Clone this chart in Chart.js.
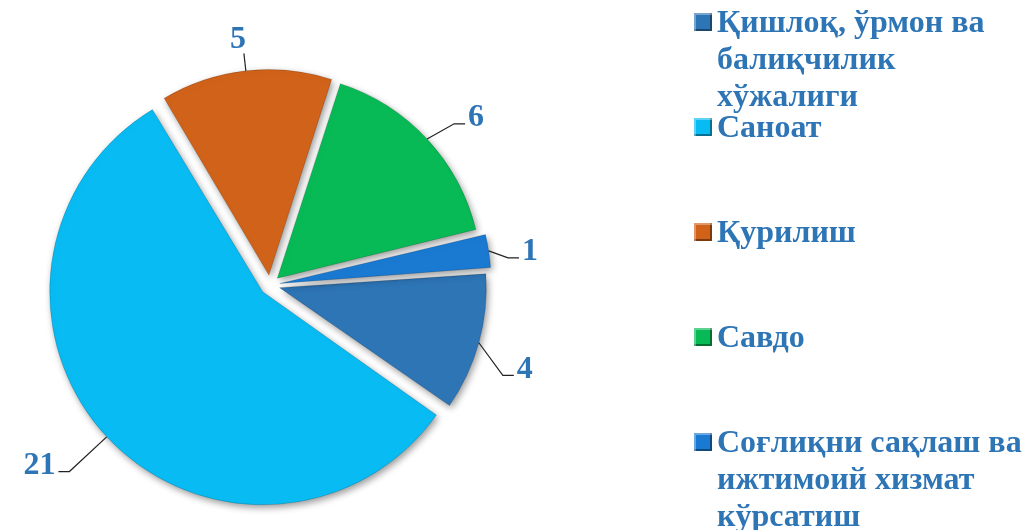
<!DOCTYPE html>
<html lang="uz">
<head>
    <meta charset="UTF-8">
    <meta name="viewport" content="width=device-width, initial-scale=1.0">
    <title>Тармоқлар бўйича тақсимот</title>
    <script src="https://cdn.jsdelivr.net/npm/chart.js"></script>
    <style>
        html, body { margin: 0; padding: 0; background: #fff; }
        #wrap { position: relative; width: 1024px; height: 530px; }
        #legend {
            position: absolute; left: 694px; top: 0; width: 330px;
            font-family: "Liberation Serif", "Times New Roman", serif;
            font-weight: bold; font-size: 32px; color: #2E75B6;
        }
        .item { position: absolute; left: 0; display: flex; align-items: flex-start; }
        .box {
            width: 18px; height: 18px; margin-top: 10px; margin-right: 5px; flex: none;
            box-sizing: border-box;
            box-shadow: inset 2px 2px 0 rgba(255,255,255,0.35), inset -2px -2px 0 rgba(0,0,0,0.4);
        }
        .txt { line-height: 37px; white-space: nowrap; }
    </style>
</head>
<body>
<div id="wrap">
    <canvas id="pieChart" width="1024" height="530"></canvas>
    <div id="legend"></div>
</div>
<script>
    // categories (one entry per legend line) and values
    const categories = [
        ['Қишлоқ, ўрмон ва', 'балиқчилик', 'хўжалиги'],
        ['Саноат'],
        ['Қурилиш'],
        ['Савдо'],
        ['Соғлиқни сақлаш ва', 'ижтимоий хизмат', 'кўрсатиш']
    ];
    const values = [4, 21, 5, 6, 1];
    const sliceColors = ['#2E75B6', '#08BBF3', '#D0621A', '#08BA55', '#1A7AD2'];

    // html legend
    const legend = document.getElementById('legend');
    categories.forEach((lines, i) => {
        const item = document.createElement('div');
        item.className = 'item';
        item.style.top = (3 + i * 105) + 'px';
        const box = document.createElement('span');
        box.className = 'box';
        box.style.background = sliceColors[i];
        const txt = document.createElement('span');
        txt.className = 'txt';
        lines.forEach((l, j) => {
            if (j) txt.appendChild(document.createElement('br'));
            txt.appendChild(document.createTextNode(l));
        });
        item.appendChild(box);
        item.appendChild(txt);
        legend.appendChild(item);
    });

    const sliceShadow = {
        id: 'sliceShadow',
        beforeDatasetsDraw(chart) {
            const ctx = chart.ctx;
            ctx.save();
            ctx.shadowColor = 'rgba(0,0,0,0.4)';
            ctx.shadowBlur = 7;
            ctx.shadowOffsetX = 2;
            ctx.shadowOffsetY = 3;
        },
        afterDatasetsDraw(chart) {
            chart.ctx.restore();
        }
    };

    // value labels with leader lines, placed outside each slice
    const valueLabels = {
        id: 'valueLabels',
        afterDatasetsDraw(chart) {
            const ctx = chart.ctx;
            const meta = chart.getDatasetMeta(0);
            ctx.save();
            ctx.font = 'bold 32px "Liberation Serif", "Times New Roman", serif';
            ctx.fillStyle = '#2E75B6';
            ctx.strokeStyle = '#222';
            ctx.lineWidth = 1.2;
            meta.data.forEach((arc, i) => {
                const p = arc.getProps(['x', 'y', 'startAngle', 'endAngle', 'outerRadius'], true);
                const mid = (p.startAngle + p.endAngle) / 2;
                const off = (arc.options.offset || 0) / 4;
                const fix = 1 - Math.sin(Math.min(Math.PI, p.endAngle - p.startAngle));
                const r = p.outerRadius + off * fix;
                const cx = p.x + Math.cos(mid) * off;
                const cy = p.y + Math.sin(mid) * off;
                const c = Math.cos(mid), s = Math.sin(mid);
                const sx = cx + c * r, sy = cy + s * r;
                let len = 12 + 50 * Math.abs(s * c);
                if (c < -0.25) len += 14;
                const bias = c > 0.25 ? 10 + 60 * Math.max(0, s) : 0;
                const ex = sx + c * len, ey = sy + s * len + bias;
                const text = String(values[i]);
                ctx.beginPath();
                ctx.moveTo(sx, sy);
                ctx.lineTo(ex, ey);
                if (Math.abs(c) < 0.25) {
                    ctx.stroke();
                    ctx.textAlign = 'center';
                    ctx.textBaseline = 'bottom';
                    ctx.fillText(text, ex - 6, ey + 2);
                } else {
                    const dir = c > 0 ? 1 : -1;
                    ctx.lineTo(ex + dir * 11, ey);
                    ctx.stroke();
                    ctx.textAlign = dir > 0 ? 'left' : 'right';
                    ctx.textBaseline = 'middle';
                    ctx.fillText(text, ex + dir * 14, ey - 6);
                }
            });
            ctx.restore();
        }
    };

    const ctx = document.getElementById('pieChart').getContext('2d');
    const chart = new Chart(ctx, {
        type: 'pie',
        data: {
            labels: categories.map(l => l.join(' ')),
            datasets: [{
                data: values,
                backgroundColor: sliceColors,
                borderColor: 'rgba(0,0,0,0.15)',
                borderWidth: 1,
                offset: 40
            }]
        },
        options: {
            responsive: false,
            animation: false,
            rotation: 86,
            radius: 203,
            layout: { padding: { left: 0, right: 484, top: 40, bottom: 0 } },
            plugins: {
                legend: { display: false },
                tooltip: { enabled: false }
            }
        },
        plugins: [sliceShadow, valueLabels]
    });
</script>
</body>
</html>
